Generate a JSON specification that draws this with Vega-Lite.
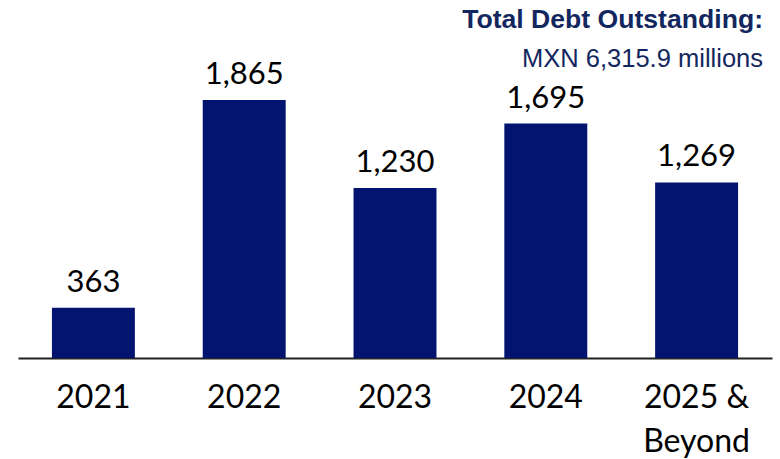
{
  "$schema": "https://vega.github.io/schema/vega-lite/v6.json",
  "width": 754,
  "height": 278,
  "autosize": {"type": "none"},
  "padding": {"left": 18, "top": 80, "right": 8, "bottom": 101},
  "background": "white",
  "title": {
    "text": "Total Debt Outstanding:",
    "subtitle": "MXN 6,315.9 millions",
    "anchor": "end",
    "frame": "group",
    "orient": "top",
    "font": "Liberation Sans",
    "fontSize": 26.6,
    "fontWeight": "bold",
    "color": "#13275f",
    "subtitleFont": "Liberation Sans",
    "subtitleFontSize": 25.5,
    "subtitleColor": "#13275f",
    "subtitlePadding": 13,
    "offset": -13,
    "dx": -9
  },
  "data": {
    "values": [
      {"period": "2021", "debt": 363, "label": "363"},
      {"period": "2022", "debt": 1865, "label": "1,865"},
      {"period": "2023", "debt": 1230, "label": "1,230"},
      {"period": "2024", "debt": 1695, "label": "1,695"},
      {"period": "2025 & Beyond", "debt": 1269, "label": "1,269"}
    ]
  },
  "encoding": {
    "x": {
      "field": "period",
      "type": "nominal",
      "sort": null,
      "scale": {"paddingInner": 0.45, "paddingOuter": 0.225},
      "axis": {
        "title": null,
        "labelAngle": 0,
        "labelFont": "Lato",
        "labelFontSize": 32,
        "labelColor": "#000000",
        "labelPadding": 24,
        "labelLineHeight": 44,
        "labelBaseline": "top",
        "ticks": false,
        "domainColor": "#222222",
        "domainWidth": 2,
        "grid": false,
        "labelExpr": "datum.value == '2025 & Beyond' ? ['2025 &', 'Beyond'] : datum.value"
      }
    },
    "y": {
      "field": "debt",
      "type": "quantitative",
      "scale": {"domain": [0, 2010], "nice": false},
      "axis": null
    }
  },
  "layer": [
    {"mark": {"type": "bar", "color": "#02146f"}},
    {
      "mark": {
        "type": "text",
        "font": "Lato",
        "fontSize": 31,
        "color": "#000000",
        "baseline": "alphabetic",
        "dy": -16
      },
      "encoding": {"text": {"field": "label"}}
    }
  ],
  "config": {"view": {"stroke": null}}
}
